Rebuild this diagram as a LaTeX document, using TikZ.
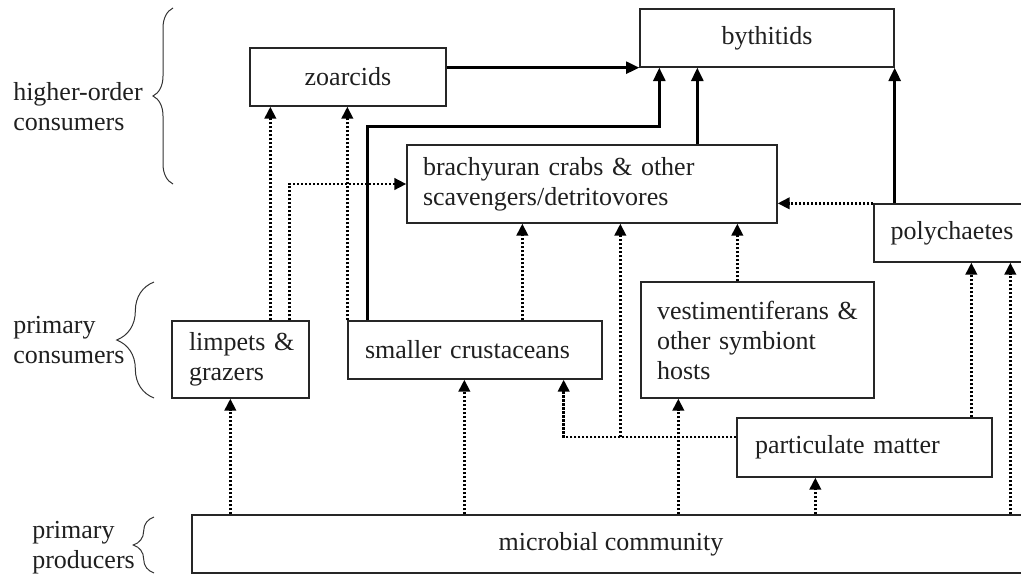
\documentclass[tikz,border=0pt]{standalone}
\usepackage{fontspec}
\setmainfont{Liberation Serif}
\usetikzlibrary{arrows.meta,calc,decorations.pathreplacing}
\begin{document}
\begin{tikzpicture}[x=0.75pt,y=-0.75pt,
  every node/.style={font=\fontsize{19.5}{22.5}\selectfont, text=black!88},
  box/.style={draw=black!85, line width=1pt, inner ysep=0pt, inner xsep=0pt, minimum height=43.5pt},
  lbox/.style={box, align=left},
  solidarr/.style={line width=2pt, draw=black, -{Triangle[length=10pt,width=9pt]}},
  dotarr/.style={line width=2.2pt, draw=black, dash pattern=on 1.8pt off 1.2pt, -{Triangle[length=9pt,width=8.5pt]}},
  lbl/.style={align=left, inner sep=0pt, anchor=west},
  brc/.style={draw=black!80, line width=0.75pt, decorate}
]
\useasboundingbox (0,0) rectangle (1021,575);

% boxes
\node[box, minimum width=147pt] (zo) at (348,77) {zoarcids};
\node[box, minimum width=190.5pt] (by) at (767,38) {bythitids};
\node[lbox, minimum height=58.5pt, inner xsep=12pt, text width=253.5pt] (br) at (592,184)
  {brachyuran crabs \& other\\scavengers/detritovores};
\node[box, minimum width=117pt] (po) at (952,233) {polychaetes};
\node[lbox, minimum height=57.75pt, inner xsep=12.75pt, text width=77.25pt] (li) at (240.5,359.5)
  {limpets~\&\\grazers};
\node[lbox, inner xsep=12.75pt, text width=165pt] (sc) at (475,350) {smaller crustaceans};
\node[lbox, minimum height=87pt, inner xsep=12pt, text width=150.75pt] (ve) at (757.5,340)
  {vestimentiferans \&\\other symbiont\\hosts};
\node[lbox, minimum height=44.25pt, inner xsep=13.5pt, text width=164.25pt] (pm) at (864.5,447.5)
  {particulate matter};
\node[box, minimum width=628.5pt] (mc) at (611,544) {microbial community};

% braces and labels
\draw[brc, decoration={brace, amplitude=15pt}] (173,184) -- (173,8);
\draw[brc, decoration={brace, amplitude=28pt}] (154,398) -- (154,282);
\draw[brc, decoration={brace, amplitude=15.5pt}] (154,573) -- (154,517);
\node[lbl] (hoc) at (13,107) {higher-order\\consumers};
\node[lbl] (pc) at (13,340) {primary\\consumers};
\node[lbl] (pp) at (32,548) {primary\\producers};

% helper coordinates
\coordinate (l1) at ($(li.north west)+(99,0)$);
\coordinate (l2) at ($(li.north west)+(118,0)$);
\coordinate (s1) at (sc.north west);
\coordinate (s2) at ($(sc.north west)+(20,0)$);
\coordinate (s3) at ($(sc.north west)+(175,0)$);
\coordinate (b2) at ($(by.south west)+(20,0)$);
\coordinate (br1) at ($(br.north west)+(291,0)$);
\coordinate (p1) at ($(pm.west)+(0,-10.5)$);
\coordinate (p2) at ($(br.south west)+(214,0)$);
\coordinate (v1) at ($(ve.north west)+(97,0)$);
\coordinate (t1) at ($(li.south west)+(59,0)$);
\coordinate (t2) at ($(sc.south west)+(117,0)$);
\coordinate (t3) at ($(ve.south west)+(38,0)$);
\coordinate (t4) at ($(pm.south west)+(79,0)$);
\coordinate (t5) at ($(po.south west)+(137,0)$);
\coordinate (t6) at ($(po.south west)+(98,0)$);
\coordinate (t7) at ($(sc.south east)+(-39,0)$);

% solid connectors
\draw[solidarr] (zo.east |- by.south west) -- (by.south west);
\draw[solidarr] (s2) |- ($(b2)+(0,59)$) -- (b2);
\draw[solidarr] (br1) -- (br1 |- by.south);
\draw[solidarr] (by.south east |- po.north) -- (by.south east);

% dotted connectors
\draw[dotarr] (po.north west) -- (br.east |- po.north west);
\draw[dotarr] (l1) -- (l1 |- zo.south);
\draw[dotarr] (l2) |- (br.west);
\draw[dotarr] (s1) -- (s1 |- zo.south);
\draw[dotarr] (s3) -- (s3 |- br.south);
\draw[dotarr] (v1) -- (v1 |- br.south);
\draw[dotarr] (p1) -| (t7);
\draw[dotarr] (p1 -| p2) -- (p2);
\draw[dotarr] (t1 |- mc.north) -- (t1);
\draw[dotarr] (t2 |- mc.north) -- (t2);
\draw[dotarr] (t3 |- mc.north) -- (t3);
\draw[dotarr] (t4 |- mc.north) -- (t4);
\draw[dotarr] (t5 |- mc.north) -- (t5);
\draw[dotarr] (t6 |- pm.north) -- (t6);
\end{tikzpicture}
\end{document}
